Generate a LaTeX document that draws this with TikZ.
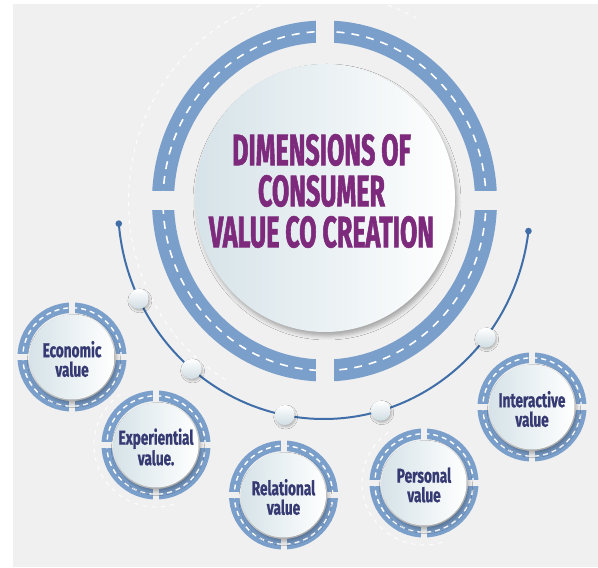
\documentclass[tikz,border=0pt]{standalone}
\usepackage{fontspec}
\setmainfont{Fira Sans}
\newfontfamily\titlefont[FakeStretch=0.57,FakeBold=1.2]{Fira Sans}
\newfontfamily\labfont[FakeStretch=0.68,FakeBold=0.8]{Fira Sans}
\usetikzlibrary{shadows.blur,calc}
\definecolor{bgc}{HTML}{F0F0F0}
\definecolor{ringblue}{HTML}{7B9FCB}
\definecolor{arcblue}{HTML}{3F6EA8}
\definecolor{titlecol}{HTML}{7D2A7C}
\definecolor{navy}{HTML}{363A72}
\definecolor{discL}{HTML}{D6E3E8}
\definecolor{beadD}{HTML}{CFDDE3}
\tikzset{
  lab/.style={text=navy, font=\labfont\bfseries\fontsize{20}{19.5}\selectfont, align=center, inner sep=0pt},
  titlestyle/.style={text=titlecol, font=\titlefont\bfseries\fontsize{44}{41}\selectfont, align=center, inner sep=0pt},
  bead/.style={circle, minimum size=20pt, inner sep=0pt, top color=white, bottom color=beadD,
    blur shadow={shadow xshift=1pt, shadow yshift=-2pt, shadow opacity=25, shadow blur radius=2pt}},
  discshade/.style={left color=discL, right color=white,
    blur shadow={shadow xshift=2pt, shadow yshift=-4pt, shadow opacity=30, shadow blur radius=4pt}},
  faint/.style={white, line width=1pt, dash pattern=on 4pt off 5pt, opacity=0.9},
  dashline/.style={white, line width=1.4pt, dash pattern=on 5pt off 4pt}
}
\newcommand\valuecircle[4]{%
  \begin{scope}[shift={(#2,#3)}]
    \fill[ringblue, even odd rule] (0,0) circle (54.5) (0,0) circle (44);
    \draw[dashline] (0,0) circle (49.2);
    \fill[bgc] (-3,-57) rectangle (3,-40);
    \fill[bgc] (-3,40) rectangle (3,57);
    \fill[bgc] (-57,-3) rectangle (-40,3);
    \fill[bgc] (40,-3) rectangle (57,3);
    \shade[discshade] (0,0) circle (42.5);
  \end{scope}
  \node[lab] (#1) at (#2,#3-2) {#4};
}
\begin{document}
\begin{tikzpicture}[x=1pt,y=1pt]
\useasboundingbox (0,0) rectangle (598,568);
\fill[white] (0,0) rectangle (598,568);
\fill[bgc] (13,1) rectangle (598,564);

\coordinate (M) at (324.5,367);
\coordinate (A) at (324,363);

% faint dashed decorations
\draw[faint] (M) ++(62:196 and 207) arc[start angle=62, end angle=240, x radius=196, y radius=207];
\draw[faint] (156,123) ++(125:62) arc[start angle=125, end angle=290, radius=62];
\draw[faint] (424,85) ++(125:62) arc[start angle=125, end angle=290, radius=62];

% main ring
\fill[ringblue, even odd rule] (M) ellipse[x radius=172.5, y radius=180.5] (M) ellipse[x radius=150.5, y radius=158.5];
\draw[white, line width=1.6pt, dash pattern=on 8pt off 7pt] (M) ellipse[x radius=161.5, y radius=169.5];
\fill[bgc] ($(M)+(-9,-186)$) rectangle ($(M)+(9,186)$);
\fill[bgc] ($(M)+(-178,-9.5)$) rectangle ($(M)+(178,9.5)$);

% main disc
\shade[discshade] (325,370) ellipse[x radius=130, y radius=134];
\node[titlestyle] (title) at (321.5,377) {DIMENSIONS OF\\CONSUMER\\VALUE CO CREATION};

% arc line with beads
\draw[arcblue, line width=2pt] (A) ++(185:206 and 214) coordinate (L)
  arc[start angle=185, end angle=353, x radius=206, y radius=214] coordinate (R);
\fill[arcblue] (L) circle (3.3);
\fill[arcblue] (R) circle (3.3);
\foreach \a/\n in {206/b1,230/b2,259/b3,286/b4,321.7/b5}{
  \path (A) ++(\a:206 and 214) node[bead] (\n) {};
}

% value circles
\valuecircle{econ}{72}{211}{Economic\\value}
\valuecircle{exper}{156}{123}{Experiential\\value.}
\valuecircle{rel}{283.5}{73}{Relational\\value}
\valuecircle{pers}{424}{85}{Personal\\value}
\valuecircle{inter}{532}{161}{Interactive\\value}
\end{tikzpicture}
\end{document}
